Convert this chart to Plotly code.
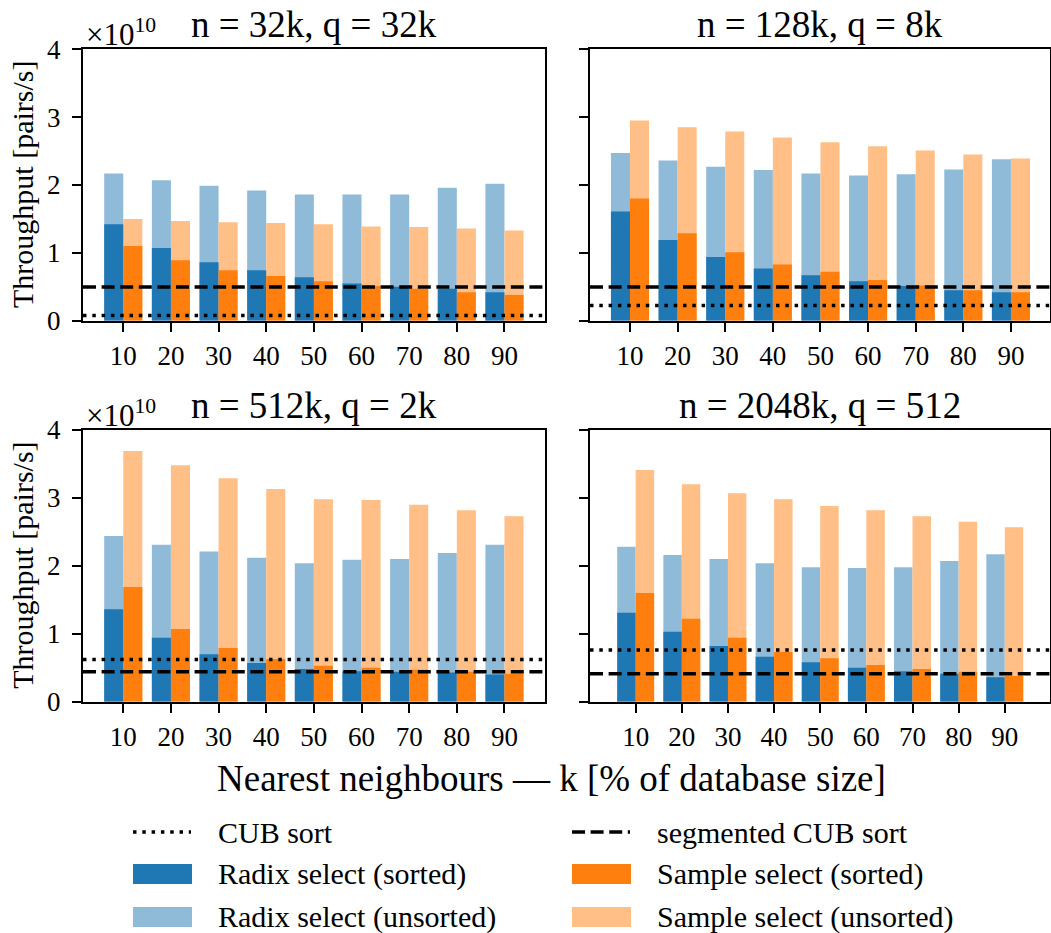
import plotly.graph_objects as go

# ---------------------------------------------------------------- data
k_percent = [10, 20, 30, 40, 50, 60, 70, 80, 90]

panel_titles = ["n = 32k, q = 32k", "n = 128k, q = 8k",
                "n = 512k, q = 2k", "n = 2048k, q = 512"]

# throughput in units of 1e10 pairs/s
radix_unsorted_32k = [2.17, 2.07, 1.99, 1.92, 1.86, 1.86, 1.86, 1.96, 2.02]
radix_sorted_32k = [1.42, 1.07, 0.86, 0.745, 0.64, 0.55, 0.50, 0.47, 0.42]
sample_unsorted_32k = [1.50, 1.47, 1.45, 1.44, 1.42, 1.39, 1.38, 1.36, 1.33]
sample_sorted_32k = [1.10, 0.89, 0.745, 0.66, 0.58, 0.51, 0.47, 0.42, 0.38]

radix_unsorted_128k = [2.47, 2.36, 2.27, 2.22, 2.17, 2.14, 2.16, 2.23, 2.38]
radix_sorted_128k = [1.61, 1.19, 0.94, 0.77, 0.67, 0.58, 0.51, 0.45, 0.42]
sample_unsorted_128k = [2.95, 2.85, 2.79, 2.70, 2.63, 2.57, 2.51, 2.45, 2.39]
sample_sorted_128k = [1.80, 1.29, 1.01, 0.83, 0.72, 0.60, 0.52, 0.45, 0.42]

radix_unsorted_512k = [2.44, 2.31, 2.21, 2.12, 2.04, 2.09, 2.10, 2.19, 2.31]
radix_sorted_512k = [1.36, 0.94, 0.70, 0.57, 0.48, 0.45, 0.44, 0.43, 0.40]
sample_unsorted_512k = [3.69, 3.48, 3.29, 3.13, 2.98, 2.97, 2.90, 2.82, 2.73]
sample_sorted_512k = [1.69, 1.07, 0.79, 0.63, 0.53, 0.50, 0.47, 0.44, 0.41]

radix_unsorted_2048k = [2.28, 2.16, 2.10, 2.04, 1.98, 1.97, 1.98, 2.07, 2.17]
radix_sorted_2048k = [1.31, 1.03, 0.82, 0.66, 0.58, 0.50, 0.45, 0.41, 0.36]
sample_unsorted_2048k = [3.41, 3.20, 3.07, 2.98, 2.88, 2.82, 2.73, 2.65, 2.57]
sample_sorted_2048k = [1.60, 1.22, 0.94, 0.73, 0.64, 0.54, 0.48, 0.44, 0.38]

cub_sort = [0.078, 0.225, 0.62, 0.76]
segmented_cub_sort = [0.495, 0.495, 0.44, 0.41]

y_ticks = [0, 1, 2, 3, 4]

legend_labels = ["CUB sort", "segmented CUB sort",
                 "Radix select (sorted)", "Sample select (sorted)",
                 "Radix select (unsorted)", "Sample select (unsorted)"]

# ---------------------------------------------------------------- style
FONT = "Liberation Serif"
W, H = 1051, 933
C_RADIX = "#1f77b4"
C_RADIX_LIGHT = "#8fbbd9"
C_SAMPLE = "#ff7f0e"
C_SAMPLE_LIGHT = "#ffbf86"
BAR_W = 4
LINE_W = 3.5
DOT = "3.5px,5.8px"
DASH = "13px,5.6px"


def px_x(p):
    return p / W


def px_y(p):
    return 1 - p / H


panels = [
    (radix_unsorted_32k, radix_sorted_32k, sample_unsorted_32k, sample_sorted_32k),
    (radix_unsorted_128k, radix_sorted_128k, sample_unsorted_128k, sample_sorted_128k),
    (radix_unsorted_512k, radix_sorted_512k, sample_unsorted_512k, sample_sorted_512k),
    (radix_unsorted_2048k, radix_sorted_2048k, sample_unsorted_2048k, sample_sorted_2048k),
]

# axes boxes in pixels: (left, right, top, bottom) and x ranges
boxes = [(83, 544.5, 49.3, 320.7), (590, 1050, 49.3, 320.7),
         (83, 544.5, 430, 701.7), (590, 1050, 430, 701.7)]
x_ranges = [[1.55, 98.4], [1.6, 98.2], [1.55, 98.4], [0.1, 99.8]]

fig = go.Figure()
layout = dict(
    width=W, height=H, autosize=False,
    margin=dict(l=0, r=0, t=0, b=0, pad=0, autoexpand=False),
    paper_bgcolor="white", plot_bgcolor="white",
    barmode="overlay", showlegend=False,
    font=dict(family=FONT, color="black"),
)

shapes = []
annotations = []

for i, (ru, rs, su, ss) in enumerate(panels):
    n = "" if i == 0 else str(i + 1)
    xa, ya = "x" + n, "y" + n
    left, right, top, bottom = boxes[i]

    for vals, col, off in [(ru, C_RADIX_LIGHT, -BAR_W), (su, C_SAMPLE_LIGHT, 0),
                           (rs, C_RADIX, -BAR_W), (ss, C_SAMPLE, 0)]:
        fig.add_trace(go.Bar(x=k_percent, y=vals, width=BAR_W, offset=off,
                             marker=dict(color=col, line=dict(width=0)),
                             xaxis=xa, yaxis=ya, hoverinfo="x+y"))

    axis_common = dict(showline=True, linecolor="black", linewidth=2, mirror=True,
                       ticks="outside", ticklen=9, tickwidth=2, tickcolor="black",
                       showgrid=False, zeroline=False, automargin=False,
                       tickfont=dict(family=FONT, size=27, color="black"))
    layout["xaxis" + n] = dict(axis_common, domain=[px_x(left), px_x(right)],
                               range=x_ranges[i], tickvals=k_percent,
                               anchor=ya, ticklabelstandoff=1)
    layout["yaxis" + n] = dict(axis_common, domain=[px_y(bottom), px_y(top)],
                               range=[0, 4], tickvals=y_ticks, anchor=xa,
                               showticklabels=(i % 2 == 0), ticklabelstandoff=6)

    # reference sort throughputs
    for val, dash in [(cub_sort[i], DOT), (segmented_cub_sort[i], DASH)]:
        shapes.append(dict(type="line", xref=xa + " domain", yref=ya,
                           x0=0, x1=1, y0=val, y1=val, layer="above",
                           line=dict(color="black", width=LINE_W, dash=dash)))

    # panel title
    annotations.append(dict(text=panel_titles[i], xref="paper", yref="paper",
                            x=px_x((left + right) / 2), y=px_y(top - 25),
                            xanchor="center", yanchor="middle", showarrow=False,
                            font=dict(family=FONT, size=37, color="black")))
    if i % 2 == 0:
        annotations.append(dict(text="×10<sup>10</sup>", xref="paper", yref="paper",
                                x=px_x(left + 1), y=px_y(top + 5),
                                xanchor="left", yanchor="bottom", showarrow=False,
                                font=dict(family=FONT, size=31, color="black")))
        annotations.append(dict(text="Throughput [pairs/s]", xref="paper", yref="paper",
                                x=px_x(23), y=px_y((top + bottom) / 2),
                                xanchor="center", yanchor="middle", textangle=-90,
                                showarrow=False,
                                font=dict(family=FONT, size=30, color="black")))

# shared x axis title
annotations.append(dict(text="Nearest neighbours — k [% of database size]",
                        xref="paper", yref="paper", x=px_x(551), y=px_y(778),
                        xanchor="center", yanchor="middle", showarrow=False,
                        font=dict(family=FONT, size=37, color="black")))

# legend: two columns, three rows
legend_style = [("line", DOT, "black"), ("line", DASH, "black"),
                ("rect", None, C_RADIX), ("rect", None, C_SAMPLE),
                ("rect", None, C_RADIX_LIGHT), ("rect", None, C_SAMPLE_LIGHT)]
row_y = [832, 874, 917]
col_x = [133, 572]
for j, (label, (kind, dash, col)) in enumerate(zip(legend_labels, legend_style)):
    cx = col_x[j % 2]
    cy = row_y[j // 2]
    if kind == "line":
        shapes.append(dict(type="line", xref="paper", yref="paper",
                           x0=px_x(cx), x1=px_x(cx + 58), y0=px_y(cy), y1=px_y(cy),
                           line=dict(color=col, width=LINE_W, dash=dash)))
    else:
        shapes.append(dict(type="rect", xref="paper", yref="paper",
                           x0=px_x(cx), x1=px_x(cx + 59), y0=px_y(cy - 10), y1=px_y(cy + 10),
                           line=dict(width=0), fillcolor=col))
    annotations.append(dict(text=label, xref="paper", yref="paper",
                            x=px_x(cx + 83), y=px_y(cy), xanchor="left", yanchor="middle",
                            showarrow=False,
                            font=dict(family=FONT, size=30, color="black")))

layout["shapes"] = shapes
layout["annotations"] = annotations
fig.update_layout(**layout)

fig.write_html("out.html")
